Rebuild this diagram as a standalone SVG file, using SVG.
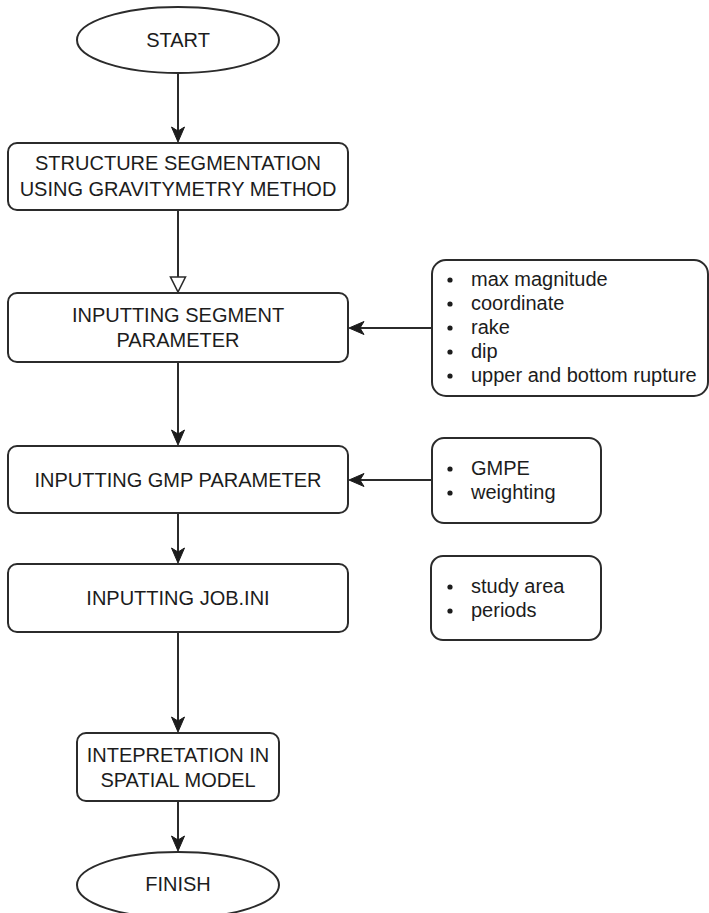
<svg xmlns="http://www.w3.org/2000/svg" width="709" height="913" viewBox="0 0 709 913">
<style>
.n{fill:#fff;stroke:#2b2b2b;stroke-width:2}
.t{font-family:"Liberation Sans",Arial,sans-serif;font-size:20px;fill:#1c1c1c;text-anchor:middle}
.b{font-family:"Liberation Sans",Arial,sans-serif;font-size:20px;fill:#1c1c1c}
.c{fill:none;stroke:#2b2b2b;stroke-width:2}
.dot{fill:#1c1c1c}
</style>
<defs>
<marker id="arr" markerUnits="userSpaceOnUse" markerWidth="20" markerHeight="18" viewBox="-17 -9 20 18" refX="-2" refY="0" orient="auto">
<path d="M0,0 L-15,-6.5 L-11,0 L-15,6.5 Z" fill="#1c1c1c" stroke="#1c1c1c" stroke-width="1" stroke-linejoin="miter"/>
</marker>
<marker id="tri" markerUnits="userSpaceOnUse" markerWidth="22" markerHeight="22" viewBox="-2 -11 22 22" refX="0" refY="0" orient="auto">
<path d="M0,-7.5 L15,0 L0,7.5 Z" fill="#fff" stroke="#2b2b2b" stroke-width="1.6"/>
</marker>
</defs>
<rect width="709" height="913" fill="#fff"/>
<g id="connectors">
<line class="c" x1="178" y1="74" x2="178" y2="140" marker-end="url(#arr)"/>
<line class="c" x1="178" y1="210" x2="178" y2="277" marker-end="url(#tri)"/>
<line class="c" x1="178" y1="362" x2="178" y2="443" marker-end="url(#arr)"/>
<line class="c" x1="178" y1="513" x2="178" y2="561" marker-end="url(#arr)"/>
<line class="c" x1="178" y1="632" x2="178" y2="730" marker-end="url(#arr)"/>
<line class="c" x1="178" y1="801" x2="178" y2="849" marker-end="url(#arr)"/>
<line class="c" x1="432" y1="328" x2="351" y2="328" marker-end="url(#arr)"/>
<line class="c" x1="432" y1="480" x2="351" y2="480" marker-end="url(#arr)"/>
</g>
<g id="start">
<ellipse class="n" cx="178" cy="40" rx="101" ry="33"/>
<text class="t" x="178" y="47">START</text>
</g>
<g id="segmentation">
<rect class="n" x="8" y="143" width="340" height="67" rx="9"/>
<text class="t" x="178" y="170">STRUCTURE SEGMENTATION</text>
<text class="t" x="178" y="196">USING GRAVITYMETRY METHOD</text>
</g>
<g id="segment-param">
<rect class="n" x="8" y="293" width="340" height="69" rx="9"/>
<text class="t" x="178" y="322">INPUTTING SEGMENT</text>
<text class="t" x="178" y="347">PARAMETER</text>
</g>
<g id="gmp-param">
<rect class="n" x="8" y="446" width="340" height="67" rx="9"/>
<text class="t" x="178" y="487">INPUTTING GMP PARAMETER</text>
</g>
<g id="job-ini">
<rect class="n" x="8" y="564" width="340" height="68" rx="9"/>
<text class="t" x="178" y="605">INPUTTING JOB.INI</text>
</g>
<g id="interpretation">
<rect class="n" x="77" y="733" width="202" height="68" rx="9"/>
<text class="t" x="178" y="762">INTEPRETATION IN</text>
<text class="t" x="178" y="787">SPATIAL MODEL</text>
</g>
<g id="finish">
<ellipse class="n" cx="178" cy="885" rx="101" ry="33"/>
<text class="t" x="178" y="891">FINISH</text>
</g>
<g id="segment-list">
<rect class="n" x="432" y="260" width="276" height="136" rx="14"/>
<circle class="dot" cx="450" cy="280" r="2.6"/>
<circle class="dot" cx="450" cy="304" r="2.6"/>
<circle class="dot" cx="450" cy="328" r="2.6"/>
<circle class="dot" cx="450" cy="352" r="2.6"/>
<circle class="dot" cx="450" cy="376" r="2.6"/>
<text class="b" x="471" y="286">max magnitude</text>
<text class="b" x="471" y="310">coordinate</text>
<text class="b" x="471" y="334">rake</text>
<text class="b" x="471" y="358">dip</text>
<text class="b" x="471" y="382">upper and bottom rupture</text>
</g>
<g id="gmp-list">
<rect class="n" x="432" y="438" width="169" height="85" rx="12"/>
<circle class="dot" cx="450" cy="469" r="2.6"/>
<circle class="dot" cx="450" cy="493" r="2.6"/>
<text class="b" x="471" y="475">GMPE</text>
<text class="b" x="471" y="499">weighting</text>
</g>
<g id="job-list">
<rect class="n" x="431" y="556" width="170" height="84" rx="12"/>
<circle class="dot" cx="450" cy="587" r="2.6"/>
<circle class="dot" cx="450" cy="611" r="2.6"/>
<text class="b" x="471" y="593">study area</text>
<text class="b" x="471" y="617">periods</text>
</g>
</svg>
